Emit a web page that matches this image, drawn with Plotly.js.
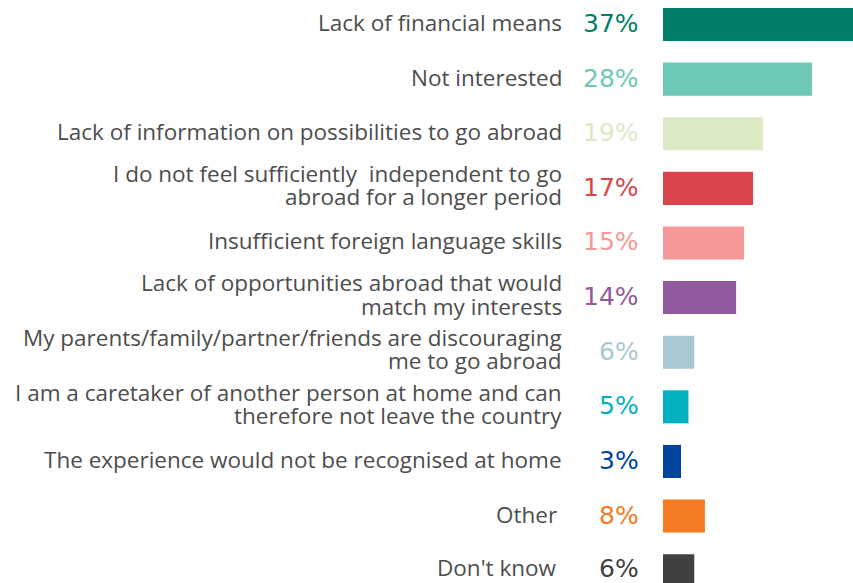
<!DOCTYPE html>
<html>
<head>
<meta charset="utf-8">
<script src="https://cdn.plot.ly/plotly-3.0.1.min.js"></script>
<style>html,body{margin:0;padding:0;background:#fff;}#chart{width:853px;height:583px;}</style>
</head>
<body>
<div id="chart"></div>
<script>
// Data
const categories = [
  "Lack of financial means",
  "Not interested",
  "Lack of information on possibilities to go abroad",
  "I do not feel sufficiently  independent to go<br>abroad for a longer period",
  "Insufficient foreign language skills",
  "Lack of opportunities abroad that would<br>match my interests",
  "My parents/family/partner/friends are discouraging<br>me to go abroad",
  "I am a caretaker of another person at home and can<br>therefore not leave the country",
  "The experience would not be recognised at home",
  "Other",
  "Don't know"
];
const values = [37.4, 28.1, 18.9, 17.0, 15.3, 13.8, 5.9, 4.8, 3.4, 7.9, 5.9];
const percentLabels = ["37%", "28%", "19%", "17%", "15%", "14%", "6%", "5%", "3%", "8%", "6%"];
const colors = ["#00806A", "#6DC9B6", "#DCEAC3", "#DA454B", "#F59896", "#93599E",
                "#A6C9D1", "#00B2BF", "#00449E", "#F57A23", "#404040"];

const W = 853, H = 583, L = 663;
const plotW = W - L;
const pxPerUnit = 5.3;
const rowPx = 54.62;
const firstCenter = 24.5;
const yTop = -firstCenter / rowPx;
const yBottom = yTop + H / rowPx;

const catFont = {family: "'Open Sans', 'DejaVu Sans', sans-serif", size: 22.5, color: "#4D4D4D"};
const pctFont = {family: "'DejaVu Sans', sans-serif", size: 25};

const annotations = [];
categories.forEach((c, i) => {
  const lines = c.split("<br>");
  const extraShift = (c === "Other" || c === "Don't know") ? -5 : 0;
  const xCat = (564 - L) / plotW;
  if (lines.length === 1) {
    annotations.push({xref: "paper", yref: "y", x: xCat, y: c, text: lines[0], showarrow: false,
      xanchor: "right", yanchor: "middle", yshift: (i === categories.length - 1) ? 3 : 2,
      xshift: extraShift, font: catFont});
  } else {
    const shifts = [14.8, -8.5];
    lines.forEach((ln, k) => {
      annotations.push({xref: "paper", yref: "y", x: xCat, y: c, text: ln, showarrow: false,
        xanchor: "right", yanchor: "middle", yshift: shifts[k], font: catFont});
    });
  }
  annotations.push({xref: "paper", yref: "y", x: (641 - L) / plotW, y: c, text: percentLabels[i],
    showarrow: false, xanchor: "right", yanchor: "middle", yshift: (i === categories.length - 1) ? 2 : 1,
    font: Object.assign({}, pctFont, {color: colors[i]})});
});

const trace = {
  type: "bar", orientation: "h",
  x: values, y: categories,
  width: 0.605,
  marker: {color: colors},
  hoverinfo: "none"
};

const layout = {
  width: W, height: H,
  margin: {l: L, r: 0, t: 0, b: 0, pad: 0},
  paper_bgcolor: "#ffffff", plot_bgcolor: "#ffffff",
  showlegend: false,
  xaxis: {range: [0, plotW / pxPerUnit], visible: false, fixedrange: true},
  yaxis: {type: "category", range: [yBottom, yTop], visible: false, fixedrange: true},
  annotations: annotations
};

Plotly.newPlot("chart", [trace], layout, {staticPlot: true, displayModeBar: false});
</script>
</body>
</html>
